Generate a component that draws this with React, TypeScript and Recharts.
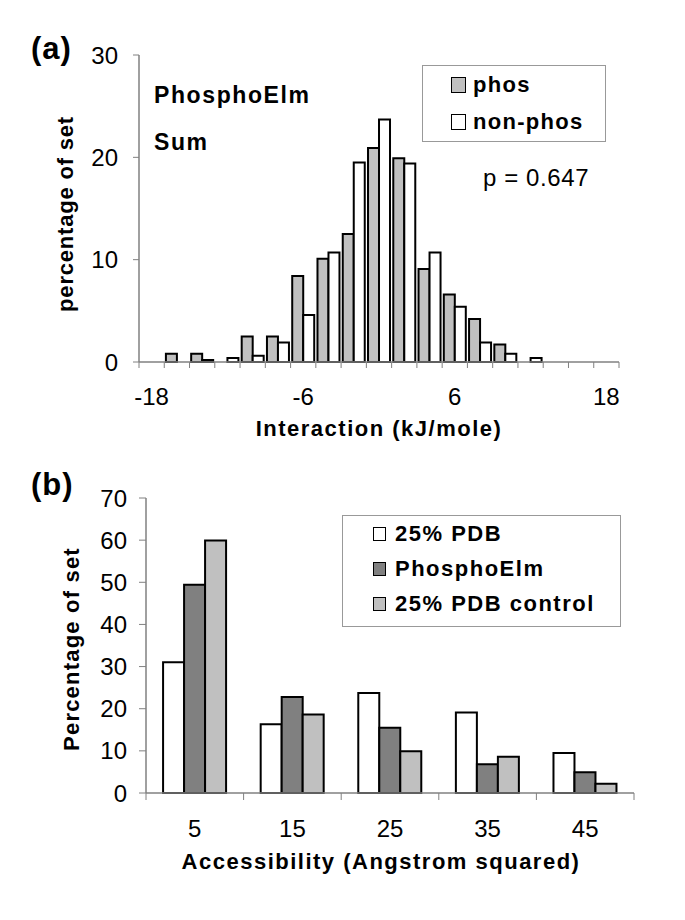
import React from 'react';
import { BarChart, Bar, XAxis, YAxis, Legend } from 'recharts';

// panel (a): interaction energy histogram
const interactionBins = [-18, -16, -14, -12, -10, -8, -6, -4, -2, 0, 2, 4, 6, 8, 10, 12, 14, 16, 18];
const phosValues = [0, 0.8, 0.8, 0, 2.5, 2.5, 8.4, 10.1, 12.5, 20.9, 19.9, 9.1, 6.6, 4.2, 1.7, 0, 0, 0, 0];
const nonPhosValues = [0, 0, 0.2, 0.4, 0.6, 1.9, 4.6, 10.7, 19.5, 23.7, 19.4, 10.7, 5.4, 1.9, 0.8, 0.4, 0, 0, 0];
const interactionLabels = [-18, -6, 6, 18];
const percentTicksA = [0, 10, 20, 30];

// panel (b): accessibility
const accessBins = ['5', '15', '25', '35', '45'];
const pdbValues = [31.0, 16.3, 23.7, 19.1, 9.5];
const phosphoElmValues = [49.4, 22.8, 15.5, 6.8, 4.9];
const pdbControlValues = [59.9, 18.6, 9.9, 8.6, 2.2];
const percentTicksB = [0, 10, 20, 30, 40, 50, 60, 70];

const seriesA = [
    { key: 'phos', name: 'phos', fill: '#c0c0c0' },
    { key: 'nonPhos', name: 'non-phos', fill: '#ffffff' }
];
const seriesB = [
    { key: 'pdb', name: '25% PDB', fill: '#ffffff' },
    { key: 'phosphoElm', name: 'PhosphoElm', fill: '#808080' },
    { key: 'pdbControl', name: '25% PDB control', fill: '#c0c0c0' }
];

const dataA = interactionBins.map((bin, i) => ({ bin, phos: phosValues[i], nonPhos: nonPhosValues[i] }));
const dataB = accessBins.map((bin, i) => ({
    bin,
    pdb: pdbValues[i],
    phosphoElm: phosphoElmValues[i],
    pdbControl: pdbControlValues[i]
}));

const FONT = '"Liberation Sans", Arial, sans-serif';
const AXIS = '#808080';
const W = 685;
const TICK_FONT = 24;

// layout
const A = { height: 450, top: 55, bottom: 28, left: 79, right: 66, xAxisH: 60, yAxisW: 60 };
const B = { offset: 450, height: 470, top: 48, bottom: 67, left: 86, right: 51, xAxisH: 60, yAxisW: 60 };

// category ticks drawn on the band boundaries, labels only where wanted
const BoundaryTick = (props: any) => {
    const { x, y, payload, index, band, count, margin, len, show } = props;
    const axisY = y - margin;
    const left = x - band / 2;
    const right = x + band / 2;
    return (
        <g>
            <line x1={left} x2={left} y1={axisY} y2={axisY + len} stroke={AXIS} strokeWidth={1} />
            {index === count - 1 && (
                <line x1={right} x2={right} y1={axisY} y2={axisY + len} stroke={AXIS} strokeWidth={1} />
            )}
            {show(payload.value) && (
                <text x={x} y={y} dy="0.71em" textAnchor="middle" fill="#000" fontSize={TICK_FONT} fontFamily={FONT}>
                    {payload.value}
                </text>
            )}
        </g>
    );
};

const BoxLegend = ({ items, rowHeight, padLeft, swatch, gap, spacing }: any) => (
    <div
        style={{
            boxSizing: 'border-box',
            width: '100%',
            height: '100%',
            border: '1px solid #999',
            background: '#fff',
            paddingLeft: padLeft,
            fontFamily: FONT
        }}
    >
        {items.map((it: any) => (
            <div key={it.key} style={{ height: rowHeight, display: 'flex', alignItems: 'center' }}>
                <span
                    style={{
                        display: 'inline-block',
                        width: swatch,
                        height: swatch + 1,
                        background: it.fill,
                        border: '1.5px solid #000',
                        boxSizing: 'border-box',
                        marginRight: gap
                    }}
                />
                <span style={{ fontWeight: 'bold', fontSize: 22, letterSpacing: spacing, color: '#000' }}>{it.name}</span>
            </div>
        ))}
    </div>
);

const bandA = (W - A.left - A.right - A.yAxisW) / interactionBins.length;
const bandB = (W - B.left - B.right - B.yAxisW) / accessBins.length;

const PanelA = () => (
    <BarChart
        width={W}
        height={A.height}
        data={dataA}
        margin={{ top: A.top, right: A.right, bottom: A.bottom, left: A.left }}
        barCategoryGap="6.5%"
        barGap={0}
        style={{ fontFamily: FONT }}
    >
        <XAxis
            dataKey="bin"
            height={A.xAxisH}
            interval={0}
            axisLine={{ stroke: AXIS, strokeWidth: 1.5 }}
            tickLine={false}
            tickSize={0}
            tickMargin={26}
            tick={
                <BoundaryTick
                    band={bandA}
                    count={interactionBins.length}
                    margin={26}
                    len={6}
                    show={(v: number) => interactionLabels.includes(v)}
                />
            }
        />
        <XAxis xAxisId="top" orientation="top" dataKey="bin" height={0} tick={false} tickLine={false} axisLine={{ stroke: AXIS, strokeWidth: 1.5 }} />
        <YAxis
            width={A.yAxisW}
            domain={[0, 30]}
            ticks={percentTicksA}
            interval={0}
            axisLine={{ stroke: AXIS, strokeWidth: 1.5 }}
            tickLine={{ stroke: AXIS }}
            tickSize={6}
            tickMargin={15}
            tick={{ fill: '#000', fontSize: TICK_FONT }}
        />
        <YAxis yAxisId="right" orientation="right" width={0} domain={[0, 30]} tick={false} tickLine={false} axisLine={{ stroke: AXIS, strokeWidth: 1.5 }} />
        {seriesA.map((s) => (
            <Bar key={s.key} dataKey={s.key} name={s.name} fill={s.fill} stroke="#000" strokeWidth={2} isAnimationActive={false} />
        ))}
        <Legend
            layout="vertical"
            align="center"
            verticalAlign="middle"
            wrapperStyle={{ left: 422, top: 65, width: 184, height: 77 }}
            content={() => <BoxLegend items={seriesA} rowHeight={37} padLeft={28} swatch={15} gap={7} spacing={1.3} />}
        />
        <text x={31} y={59} fontSize={31} fontWeight="bold" letterSpacing={1} fill="#000">(a)</text>
        <text
            x={65}
            y={214}
            transform="rotate(-90 65 214)"
            textAnchor="middle"
            dominantBaseline="central"
            fontSize={22}
            fontWeight="bold"
            letterSpacing={0.8}
            fill="#000"
        >
            percentage of set
        </text>
        <text x={154} y={103} fontSize={23} fontWeight="bold" letterSpacing={1.6} fill="#000">PhosphoElm</text>
        <text x={154} y={150} fontSize={23} fontWeight="bold" letterSpacing={1.6} fill="#000">Sum</text>
        <text x={483} y={186} fontSize={24} letterSpacing={0.6} fill="#000">p = 0.647</text>
        <text x={379} y={428} textAnchor="middle" dominantBaseline="central" fontSize={22} fontWeight="bold" letterSpacing={1.5} fill="#000">
            Interaction (kJ/mole)
        </text>
    </BarChart>
);

const PanelB = () => (
    <BarChart
        width={W}
        height={B.height}
        data={dataB}
        margin={{ top: B.top, right: B.right, bottom: B.bottom, left: B.left }}
        barCategoryGap="17.5%"
        barGap={0}
        style={{ fontFamily: FONT }}
    >
        <XAxis
            dataKey="bin"
            height={B.xAxisH}
            interval={0}
            axisLine={{ stroke: AXIS, strokeWidth: 1.5 }}
            tickLine={false}
            tickSize={0}
            tickMargin={27}
            tick={<BoundaryTick band={bandB} count={accessBins.length} margin={27} len={7} show={() => true} />}
        />
        <XAxis xAxisId="top" orientation="top" dataKey="bin" height={0} tick={false} tickLine={false} axisLine={{ stroke: AXIS, strokeWidth: 1.5 }} />
        <YAxis
            width={B.yAxisW}
            domain={[0, 70]}
            ticks={percentTicksB}
            interval={0}
            axisLine={{ stroke: AXIS, strokeWidth: 1.5 }}
            tickLine={{ stroke: AXIS }}
            tickSize={7}
            tickMargin={12}
            tick={{ fill: '#000', fontSize: TICK_FONT }}
        />
        <YAxis yAxisId="right" orientation="right" width={0} domain={[0, 70]} tick={false} tickLine={false} axisLine={{ stroke: AXIS, strokeWidth: 1.5 }} />
        {seriesB.map((s) => (
            <Bar key={s.key} dataKey={s.key} name={s.name} fill={s.fill} stroke="#000" strokeWidth={2} isAnimationActive={false} />
        ))}
        <Legend
            layout="vertical"
            align="center"
            verticalAlign="middle"
            wrapperStyle={{ left: 342, top: 65, width: 279, height: 112 }}
            content={() => <BoxLegend items={seriesB} rowHeight={35} padLeft={30} swatch={13} gap={9} spacing={1.5} />}
        />
        <text x={31} y={45} fontSize={31} fontWeight="bold" letterSpacing={1} fill="#000">(b)</text>
        <text
            x={71}
            y={199}
            transform="rotate(-90 71 199)"
            textAnchor="middle"
            dominantBaseline="central"
            fontSize={22}
            fontWeight="bold"
            letterSpacing={1.2}
            fill="#000"
        >
            Percentage of set
        </text>
        <text x={381} y={411} textAnchor="middle" dominantBaseline="central" fontSize={22} fontWeight="bold" letterSpacing={1.5} fill="#000">
            Accessibility (Angstrom squared)
        </text>
    </BarChart>
);

export default function App() {
    return (
        <div style={{ position: 'absolute', left: 0, top: 0, width: W, height: 920, background: '#fff', fontFamily: FONT }}>
            <div style={{ position: 'absolute', left: 0, top: 0 }}>
                <PanelA />
            </div>
            <div style={{ position: 'absolute', left: 0, top: B.offset }}>
                <PanelB />
            </div>
        </div>
    );
}
